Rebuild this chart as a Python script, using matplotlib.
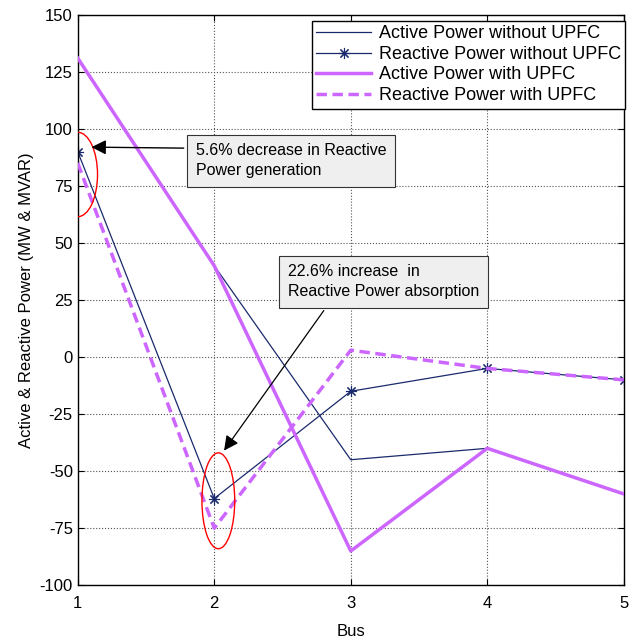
import matplotlib
matplotlib.use("Agg")
import matplotlib.pyplot as plt
from matplotlib.patches import Ellipse

plt.rcParams['font.family'] = ['Liberation Sans', 'DejaVu Sans']
plt.rcParams['axes.unicode_minus'] = False

bus = [1, 2, 3, 4, 5]
active_without = [131, 40, -45, -40, -60]
reactive_without = [90, -62, -15, -5, -10]
active_with = [131, 40, -85, -40, -60]
reactive_with = [85, -75, 3, -5, -10]
yticks = [-100, -75, -50, -25, 0, 25, 50, 75, 100, 125, 150]

navy = '#1a2a6c'
violet = '#cc66ff'

fig = plt.figure(figsize=(6.32, 6.41), dpi=100)
ax = fig.add_axes([0.123, 0.087, 0.864, 0.890])

ax.plot(bus, active_without, color=navy, lw=0.9, label='Active Power without UPFC', zorder=2)
ax.plot(bus, reactive_without, color=navy, lw=0.9, marker=(8, 2, 0), ms=8, mew=0.8,
        label='Reactive Power without UPFC', zorder=2)
ax.plot(bus, active_with, color=violet, lw=2.5, label='Active Power with UPFC', zorder=3)
ax.plot(bus, reactive_with, color=violet, lw=2.5, ls=(0, (3, 1.6)),
        label='Reactive Power with UPFC', zorder=3)

ax.set_xlim(1, 5)
ax.set_ylim(-100, 150)
ax.set_xticks(bus)
ax.set_yticks(yticks)
ax.tick_params(direction='in', top=True, right=True, labelsize=12, length=4)
ax.tick_params(axis='x', pad=8)
ax.grid(True, ls=':', color='#555555', lw=0.8)
for s in ax.spines.values():
    s.set_linewidth(1.0)
ax.set_xlabel('Bus', fontsize=12, labelpad=9)
ax.set_ylabel('Active & Reactive Power (MW & MVAR)', fontsize=12)

leg = ax.legend(loc='upper right', bbox_to_anchor=(1.003, 0.9895), fontsize=13, frameon=True,
                fancybox=False, edgecolor='black', framealpha=1, borderpad=0.25,
                labelspacing=0.2, handlelength=3.0, handletextpad=0.45, borderaxespad=0)
leg.get_frame().set_linewidth(1.0)
leg.set_zorder(10)

ax.add_patch(Ellipse((1.0, 80), 0.29, 37, fill=False, edgecolor='red', lw=1.0, zorder=5))
ax.add_patch(Ellipse((2.03, -63), 0.24, 42, fill=False, edgecolor='red', lw=1.0, zorder=5))

bbox = dict(boxstyle='square,pad=0.55', fc='#efefef', ec='#333333', lw=0.8)
ax.annotate('5.6% decrease in Reactive\nPower generation', xy=(1.08, 92), xytext=(1.864, 86),
            textcoords='data', fontsize=11.5, linespacing=1.4,
            va='center', ha='left', bbox=bbox,
            arrowprops=dict(arrowstyle='-|>', color='black', lw=1.0, mutation_scale=22,
                            relpos=(0, 0.86)), zorder=6)
ax.annotate('22.6% increase  in\nReactive Power absorption', xy=(2.06, -42), xytext=(2.54, 33),
            textcoords='data', fontsize=11.5, linespacing=1.4,
            va='center', ha='left', bbox=bbox,
            arrowprops=dict(arrowstyle='-|>', color='black', lw=0.9, mutation_scale=22,
                            relpos=(0.23, 0)), zorder=6)

fig.savefig('out.png', dpi=100)
